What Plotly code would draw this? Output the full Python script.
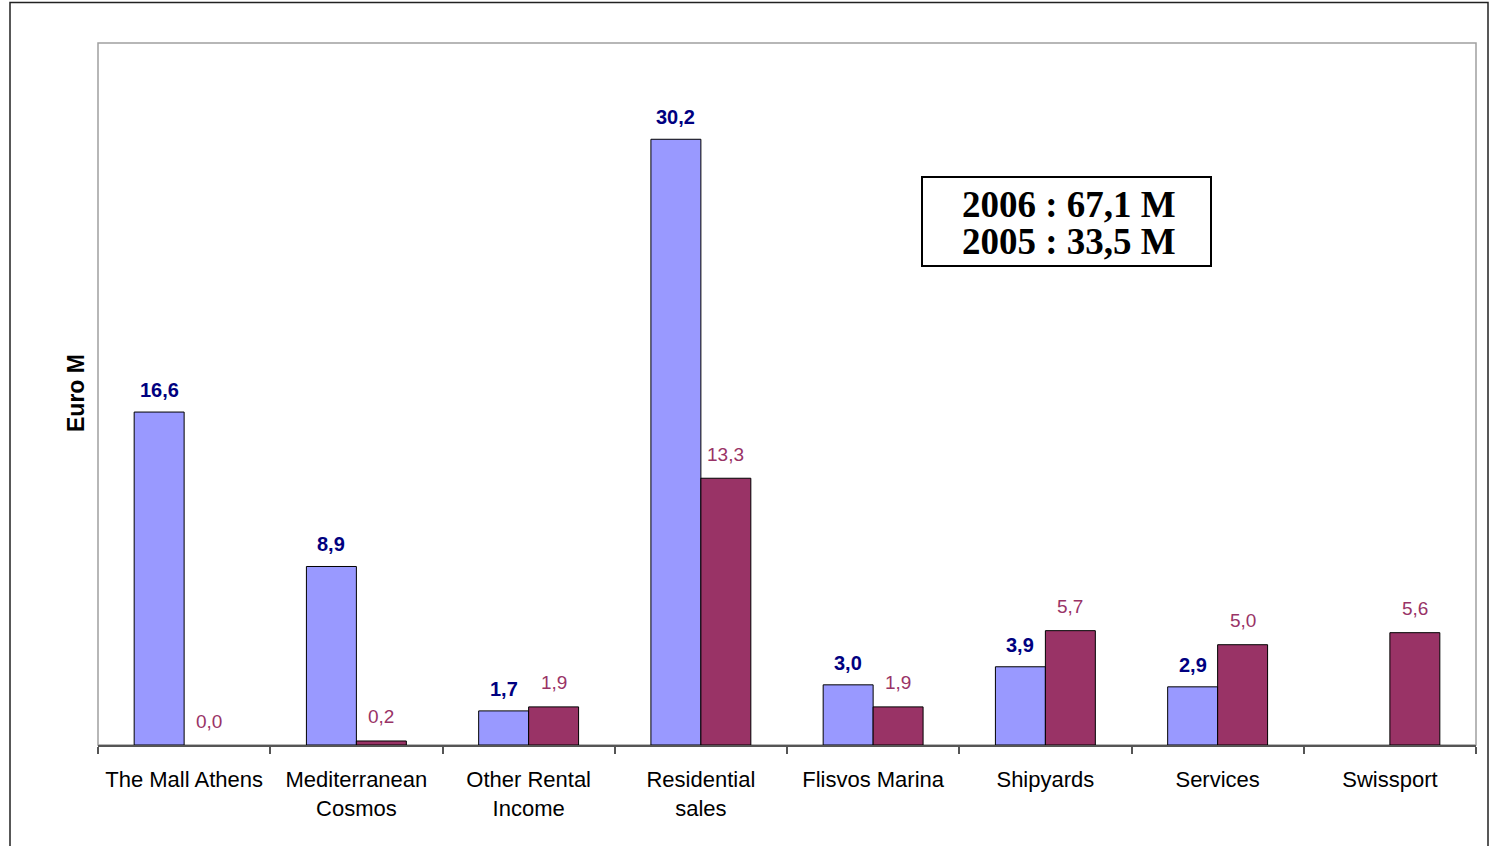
import plotly.graph_objects as go

categories = ["The Mall Athens", "Mediterranean<br>Cosmos", "Other Rental<br>Income",
              "Residential<br>sales", "Flisvos Marina", "Shipyards", "Services", "Swissport"]
values_2006 = [16.6, 8.9, 1.7, 30.2, 3.0, 3.9, 2.9, None]
values_2005 = [0.0, 0.2, 1.9, 13.3, 1.9, 5.7, 5.0, 5.6]
summary_lines = ["2006 : 67,1 M", "2005 : 33,5 M"]

W, H = 1491, 846
L, R, T, B = 98, 15, 43, 101
pw, ph = W - L - R, H - T - B

def fmt(v):
    return f"{v:.1f}".replace(".", ",")

def edge_widths(vals):
    return [1 if (v is not None and v != 0) else 0 for v in vals]

fig = go.Figure()
fig.add_trace(go.Bar(x=categories, y=values_2006, name="2006",
                     marker=dict(color="#9999FF",
                                 line=dict(color="black", width=edge_widths(values_2006)))))
fig.add_trace(go.Bar(x=categories, y=values_2005, name="2005",
                     marker=dict(color="#993366",
                                 line=dict(color="black", width=edge_widths(values_2005)))))

annotations = []
for c, v in zip(categories, values_2006):
    if v is None:
        continue
    annotations.append(dict(x=c, y=v, xref="x", yref="y", text=fmt(v), showarrow=False,
                            xshift=-25, yshift=22, yanchor="middle",
                            font=dict(family="Liberation Sans, Arial", size=20, color="#000080",
                                      weight="bold")))
for c, v in zip(categories, values_2005):
    if v is None:
        continue
    annotations.append(dict(x=c, y=v, xref="x", yref="y", text=fmt(v), showarrow=False,
                            xshift=25, yshift=24, yanchor="middle",
                            font=dict(family="Liberation Sans, Arial", size=19, color="#993366")))

# y-axis title
annotations.append(dict(x=(76 - L) / pw, y=(H - B - 393) / ph, xref="paper", yref="paper",
                        text="<b>Euro M</b>",
                        textangle=-90, showarrow=False, xanchor="center", yanchor="middle",
                        font=dict(family="Liberation Sans, Arial", size=23, color="black")))
# summary box text
for i, line in enumerate(summary_lines):
    yc = 205 + i * 36
    annotations.append(dict(x=(1069 - L) / pw, y=(H - B - yc) / ph, xref="paper", yref="paper",
                            text=f"<b>{line}</b>", showarrow=False, xanchor="center", yanchor="middle",
                            borderpad=0,
                            font=dict(family="Liberation Serif, Times New Roman", size=37, color="black")))

shapes = [
    # outer frame
    dict(type="rect", xref="paper", yref="paper",
         x0=(10 - L) / pw, x1=(1488 - L) / pw, y0=(H - B - 860) / ph, y1=(H - B - 2.5) / ph,
         line=dict(color="#222222", width=1.5), fillcolor="rgba(0,0,0,0)", layer="below"),
    # plot frame
    dict(type="rect", xref="paper", yref="paper", x0=0, x1=1, y0=0, y1=1,
         line=dict(color="#a0a0a0", width=1.5), fillcolor="rgba(0,0,0,0)", layer="below"),
    # summary box
    dict(type="rect", xref="paper", yref="paper",
         x0=(922 - L) / pw, x1=(1211 - L) / pw, y0=(H - B - 266) / ph, y1=(H - B - 177) / ph,
         line=dict(color="black", width=2), fillcolor="white"),
]

fig.update_layout(
    width=W, height=H,
    margin=dict(l=L, r=R, t=T, b=B),
    paper_bgcolor="white", plot_bgcolor="white",
    barmode="group", bargap=0.42, bargroupgap=0,
    showlegend=False,
    annotations=annotations, shapes=shapes,
    xaxis=dict(showline=True, linecolor="#555555", linewidth=1.5, ticks="outside",
               tickson="boundaries", ticklen=7, tickcolor="#555555", tickwidth=1.5,
               ticklabelstandoff=14,
               tickfont=dict(family="Liberation Sans, Arial", size=22, color="black"),
               showgrid=False, zeroline=False),
    yaxis=dict(range=[0, 35], showticklabels=False, ticks="", showgrid=False, zeroline=False,
               showline=False),
)

fig.write_html("out.html")
